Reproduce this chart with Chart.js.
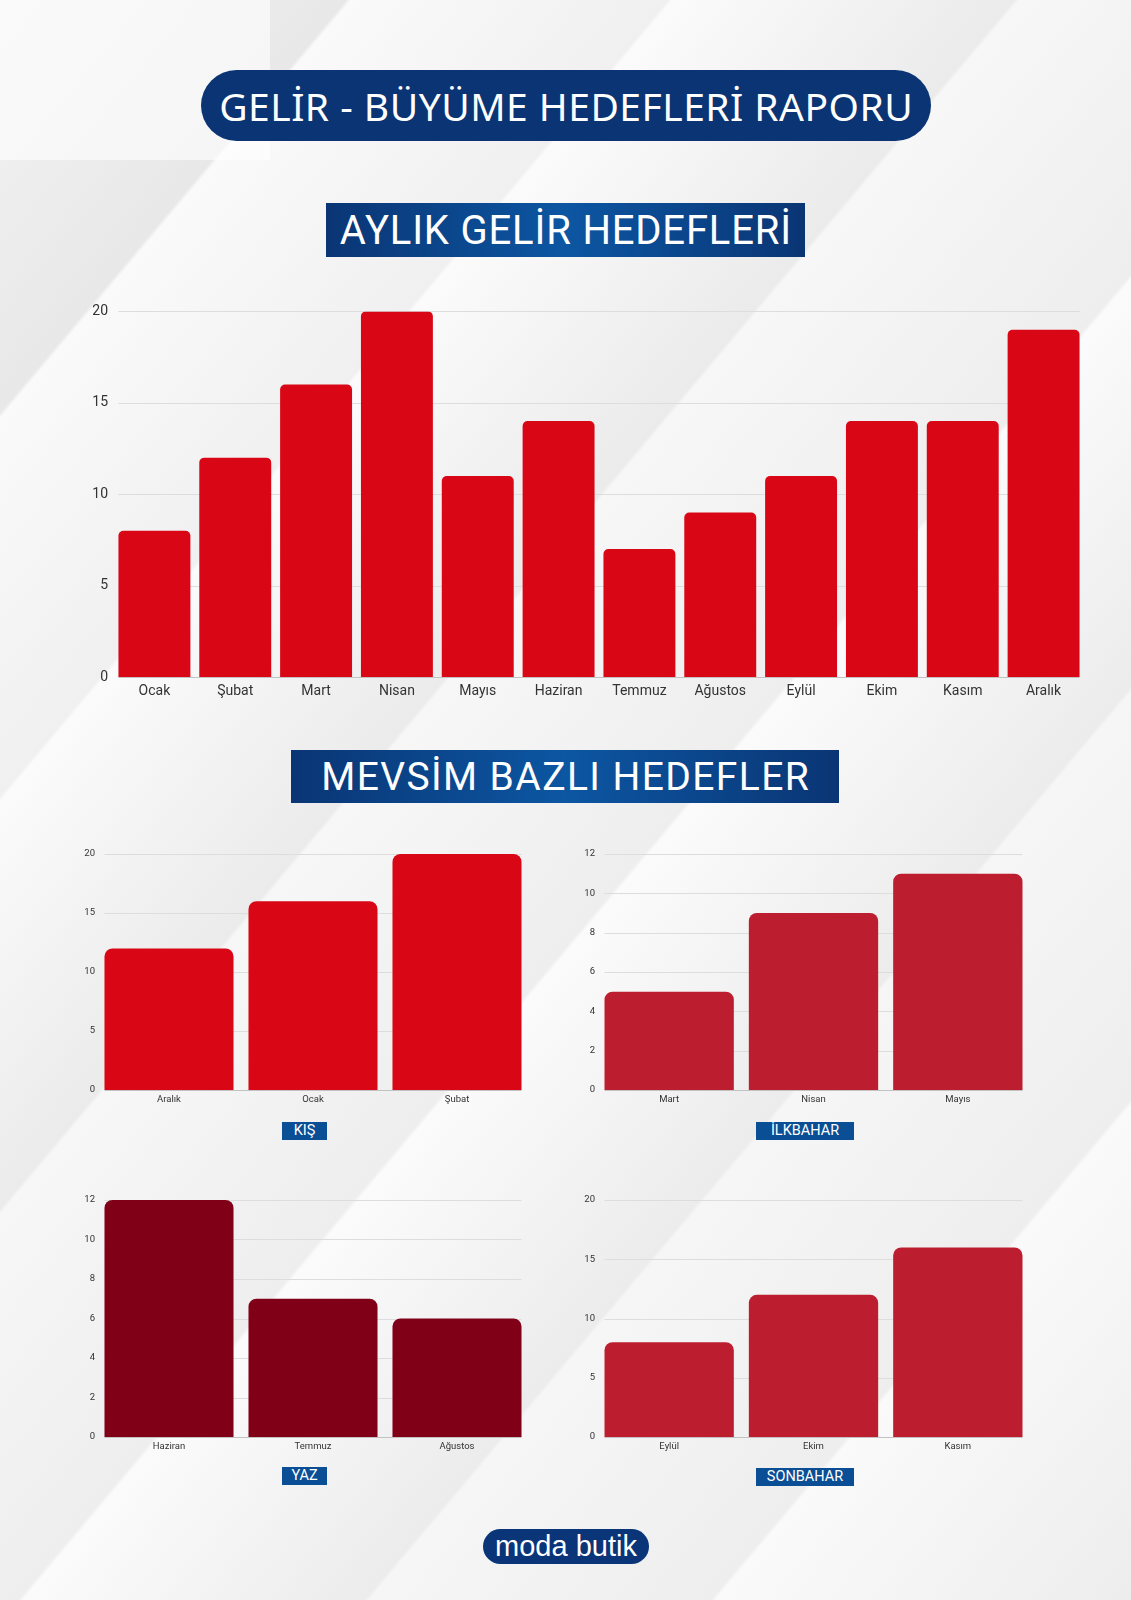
<!DOCTYPE html>
<html lang="tr">
<head>
<meta charset="utf-8">
<title>Gelir - Büyüme Hedefleri Raporu</title>
<script src="https://cdn.jsdelivr.net/npm/chart.js@4.4.1/dist/chart.umd.min.js"></script>
<style>
  html, body { margin: 0; padding: 0; }
  #page {
    position: relative;
    width: 1131px;
    height: 1600px;
    overflow: hidden;
    font-family: Roboto, "Noto Sans", sans-serif;
    background:
      linear-gradient(90deg, rgba(255,255,255,0.6) 0 270px, rgba(255,255,255,0) 270px 100%) 0 0 / 100% 160px no-repeat,
      linear-gradient(130deg, #f3f3f3 0%, #e8e8e8 14%, #fafafa 14.2%, #f0f0f0 27%, #fbfbfb 27.2%, #ebebeb 41%,
        #f7f7f7 41.2%, #eeeeee 55%, #fbfbfb 55.2%, #ececec 69%, #f6f6f6 69.2%, #eeeeee 83%, #fafafa 83.2%, #ededed 100%);
  }
  .heading {
    position: absolute;
    display: flex;
    align-items: center;
    justify-content: center;
    color: #fff;
    white-space: nowrap;
  }
  #mainTitle {
    left: 201px; top: 70px; width: 730px; height: 71px;
    border-radius: 36px;
    background: #0a3473;
    font-family: "Noto Sans", sans-serif;
    font-weight: 400;
    font-size: 39px;
  }
  .band {
    background: linear-gradient(90deg, #0a3574 0%, #0c56a2 50%, #0a3574 100%);
    font-family: Roboto, sans-serif;
    font-weight: 400;
  }
  #monthlyTitle { left: 326px; top: 203px; width: 479px; height: 54px; font-size: 40px; }
  #seasonTitle { left: 291px; top: 750px; width: 548px; height: 53px; font-size: 39px; }
  .chartBox { position: absolute; }
  .season {
    position: absolute;
    height: 18px;
    background: #0a4e95;
    color: #fff;
    font-size: 14.5px;
    line-height: 18px;
    text-align: center;
  }
  #footer {
    left: 483px; top: 1529px; width: 166px; height: 35px;
    border-radius: 18px;
    background: #0a3578;
    font-family: "Liberation Sans", Arial, sans-serif;
    font-size: 29px;
  }
</style>
</head>
<body>
<div id="page">
  <div class="heading" id="mainTitle"><span>GELİR - BÜYÜME HEDEFLERİ RAPORU</span></div>
  <div class="heading band" id="monthlyTitle"><span>AYLIK GELİR HEDEFLERİ</span></div>
  <div class="chartBox" style="left:46px; top:297px; width:1038px; height:414px;"><canvas id="monthlyChart"></canvas></div>

  <div class="heading band" id="seasonTitle"><span>MEVSİM BAZLI HEDEFLER</span></div>

  <div class="chartBox" style="left:37px; top:842px; width:492px; height:270px;"><canvas id="winterChart"></canvas></div>
  <div class="season" style="left:282px; top:1122px; width:45px;">KIŞ</div>

  <div class="chartBox" style="left:537px; top:842px; width:493px; height:270px;"><canvas id="springChart"></canvas></div>
  <div class="season" style="left:756px; top:1122px; width:98px;">İLKBAHAR</div>

  <div class="chartBox" style="left:37px; top:1188px; width:492px; height:271px;"><canvas id="summerChart"></canvas></div>
  <div class="season" style="left:282px; top:1467px; width:45px;">YAZ</div>

  <div class="chartBox" style="left:537px; top:1188px; width:493px; height:271px;"><canvas id="autumnChart"></canvas></div>
  <div class="season" style="left:756px; top:1468px; width:98px;">SONBAHAR</div>

  <div class="heading" id="footer">moda butik</div>
</div>

<script>
// Aylık gelir hedefleri
const months = ['Ocak', 'Şubat', 'Mart', 'Nisan', 'Mayıs', 'Haziran', 'Temmuz', 'Ağustos', 'Eylül', 'Ekim', 'Kasım', 'Aralık'];
const monthlyTargets = [8, 12, 16, 20, 11, 14, 7, 9, 11, 14, 14, 19];

// Mevsim bazlı hedefler
const winterMonths = ['Aralık', 'Ocak', 'Şubat'];
const winterTargets = [12, 16, 20];
const springMonths = ['Mart', 'Nisan', 'Mayıs'];
const springTargets = [5, 9, 11];
const summerMonths = ['Haziran', 'Temmuz', 'Ağustos'];
const summerTargets = [12, 7, 6];
const autumnMonths = ['Eylül', 'Ekim', 'Kasım'];
const autumnTargets = [8, 12, 16];

// y axis max / step per chart
const monthlyAxis = [20, 5];
const winterAxis = [20, 5];
const springAxis = [12, 2];
const summerAxis = [12, 2];
const autumnAxis = [20, 5];

// stretch heading text to the width it has in the design
function fitHeading(id, targetWidth) {
    const span = document.querySelector('#' + id + ' span');
    const chars = span.textContent.length;
    const natural = span.getBoundingClientRect().width;
    const spacing = (targetWidth - natural) / chars;
    span.style.letterSpacing = spacing.toFixed(2) + 'px';
    span.style.marginRight = (-spacing).toFixed(2) + 'px';
}

// horizontal grid lines only as wide as the bars (first bar left edge -> last bar right edge)
const barGrid = {
    id: 'barGrid',
    beforeDatasetsDraw(chart) {
        const bars = chart.getDatasetMeta(0).data;
        const first = bars[0], last = bars[bars.length - 1];
        const x0 = first.x - first.width / 2;
        const x1 = last.x + last.width / 2;
        const yScale = chart.scales.y;
        const ctx = chart.ctx;
        ctx.save();
        ctx.lineWidth = 1;
        yScale.ticks.forEach(t => {
            const py = Math.round(yScale.getPixelForValue(t.value)) + 0.5;
            ctx.strokeStyle = t.value === 0 ? '#c2c2c2' : '#dddddd';
            ctx.beginPath();
            ctx.moveTo(x0, py);
            ctx.lineTo(x1, py);
            ctx.stroke();
        });
        ctx.restore();
    }
};

function makeBarChart(canvasId, labels, values, color, axis, opts) {
    return new Chart(document.getElementById(canvasId), {
        type: 'bar',
        data: {
            labels: labels,
            datasets: [{
                data: values,
                backgroundColor: color,
                borderRadius: opts.radius,
                borderSkipped: 'bottom',
                barPercentage: opts.barPct,
                categoryPercentage: 1
            }]
        },
        options: {
            responsive: true,
            maintainAspectRatio: false,
            animation: false,
            layout: { padding: { top: opts.top, right: 0, bottom: 0, left: 0 } },
            plugins: { legend: { display: false }, tooltip: { enabled: false } },
            scales: {
                x: {
                    grid: { display: false, drawTicks: false },
                    border: { display: false },
                    ticks: {
                        color: '#333',
                        padding: opts.xPad,
                        font: { family: 'Roboto', size: opts.font }
                    },
                    afterFit: s => { s.height = opts.xHeight; }
                },
                y: {
                    min: 0,
                    max: axis[0],
                    grid: { display: false, drawTicks: false },
                    border: { display: false },
                    ticks: {
                        stepSize: axis[1],
                        color: '#333',
                        padding: opts.yPad,
                        font: { family: 'Roboto', size: opts.font }
                    },
                    afterFit: s => { s.width = opts.yWidth; }
                }
            }
        },
        plugins: [barGrid]
    });
}

document.addEventListener('DOMContentLoaded', () => {
    fitHeading('mainTitle', 694);
    fitHeading('monthlyTitle', 452);
    fitHeading('seasonTitle', 489);

    const big = { radius: 5, barPct: 0.89, font: 14, xPad: 6, yPad: 6, xHeight: 34, yWidth: 68, top: 5 };
    const small = { radius: 8, barPct: 0.896, font: 9.5, xPad: 4, yPad: 2, xHeight: 22, yWidth: 60, top: 12 };

    makeBarChart('monthlyChart', months, monthlyTargets, '#d90616', monthlyAxis, big);
    makeBarChart('winterChart', winterMonths, winterTargets, '#d90616', winterAxis, small);
    makeBarChart('springChart', springMonths, springTargets, '#bd1e2f', springAxis, small);
    makeBarChart('summerChart', summerMonths, summerTargets, '#800018', summerAxis, small);
    makeBarChart('autumnChart', autumnMonths, autumnTargets, '#bd1e2f', autumnAxis, small);
});
</script>
</body>
</html>
